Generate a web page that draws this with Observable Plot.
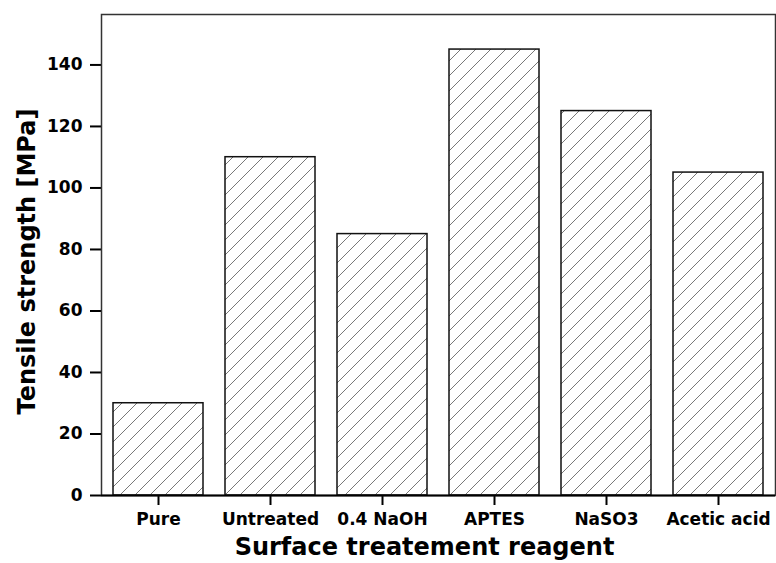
<!DOCTYPE html>
<html>
<head>
<meta charset="utf-8">
<script src="https://cdn.jsdelivr.net/npm/d3@7"></script>
<script src="https://cdn.jsdelivr.net/npm/@observablehq/plot@0.6"></script>
<style>
  html, body { margin: 0; padding: 0; background: #fff; }
  #chart svg { display: block; }
  #chart svg g[aria-label*="axis"] line,
  #chart svg g[aria-label*="axis tick"] path { stroke-width: 2px; stroke: #000; }
</style>
</head>
<body>
<div id="chart"></div>
<script>
const categories = ["Pure", "Untreated", "0.4 NaOH", "APTES", "NaSO3", "Acetic acid"];
const tensileStrength = [30, 110, 85, 145, 125, 105];
const yTicks = [0, 20, 40, 60, 80, 100, 120, 140];
const xTitle = "Surface treatement reagent";
const yTitle = "Tensile strength [MPa]";

const data = categories.map((c, i) => ({reagent: c, value: tensileStrength[i]}));

const chart = Plot.plot({
  width: 776,
  height: 563,
  marginLeft: 101,
  marginRight: 1,
  marginTop: 14,
  marginBottom: 68,
  style: {fontFamily: "DejaVu Sans", fontSize: "17px", fontWeight: "bold", color: "#000", background: "#fff"},
  x: {domain: categories, label: null, tickSize: 10, tickPadding: 7, paddingInner: 0.2, paddingOuter: 0.1},
  y: {domain: [0, 156.4], ticks: yTicks, tickFormat: d => String(d), label: null, tickSize: 11, tickPadding: 8},
  marks: [
    Plot.barY(data, {x: "reagent", y: "value", fill: "url(#hatch)", stroke: "#111", strokeWidth: 1.5}),
    Plot.frame({stroke: "#333", strokeWidth: 1.5}),
    Plot.ruleY([0], {stroke: "#000", strokeWidth: 2}),
    Plot.text([xTitle], {text: d => d, frameAnchor: "bottom", textAnchor: "middle", lineAnchor: "middle", dx: -14, dy: 52, fontSize: 24, fontWeight: "bold"}),
    Plot.text([yTitle], {text: d => d, frameAnchor: "left", textAnchor: "middle", lineAnchor: "middle", rotate: -90, dx: -74, dy: 6.5, fontSize: 24, fontWeight: "bold"})
  ]
});

document.getElementById("chart").appendChild(chart);

const svg = d3.select(chart.tagName.toLowerCase() === "svg" ? chart : chart.querySelector("svg"));
const defs = svg.insert("defs", ":first-child");
const pat = defs.append("pattern")
  .attr("id", "hatch")
  .attr("patternUnits", "userSpaceOnUse")
  .attr("width", 15)
  .attr("height", 15);
pat.append("rect").attr("width", 15).attr("height", 15).attr("fill", "#fff");
pat.append("path")
  .attr("d", "M0,15L15,0M-4,4L4,-4M11,19L19,11")
  .attr("stroke", "#555")
  .attr("stroke-width", 0.8)
  .attr("fill", "none");
</script>
</body>
</html>
